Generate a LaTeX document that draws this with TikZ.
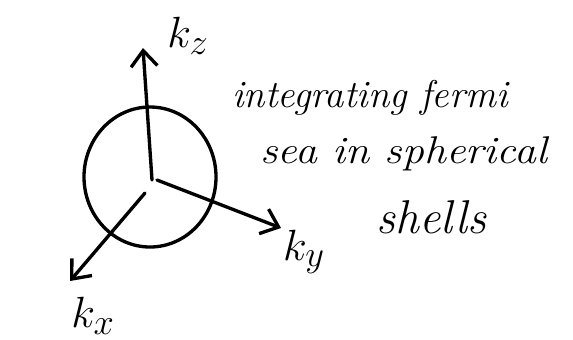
\documentclass[tikz,border=0pt]{standalone}
\usepackage{amsmath}
\usetikzlibrary{arrows.meta}

\tikzset{
  pen/.style={line width=1.9pt, line cap=round, line join=round},
  axis/.style={pen, -{Straight Barb[length=9pt, width=15pt, line width=1.9pt]}},
  hand/.style={font=\fontsize{22}{26}\selectfont\itshape, inner sep=0pt},
  axlabel/.style={font=\fontsize{28}{32}\selectfont, inner sep=0pt},
}

\begin{document}
\begin{tikzpicture}[x=0.02cm, y=-0.02cm]
  \useasboundingbox (0,0) rectangle (573,339);

  % origin and axis ends
  \coordinate (o) at (152,180);
  \coordinate (zend) at (143,48);
  \coordinate (yend) at (281,228);
  \coordinate (xend) at (70,281);

  % fermi sphere
  \draw[pen] (150,177) ellipse (66 and 70);

  \draw[axis] (o) -- (zend);
  \draw[axis] (157,180) -- (yend);
  \draw[axis] (145,193) -- (xend);

  \node[axlabel] (kz) at (188,36) {$k_z$};
  \node[axlabel] (ky) at (304,252) {$k_y$};
  \node[axlabel] (kx) at (93,316) {$k_x$};

  \node[hand, anchor=base west] (txta) at (232,107) {integrating fermi};
  \node[hand, anchor=base west, xscale=1.13, transform shape] (txtb) at (260,163) {sea in spherical};
  \node[hand, anchor=base west, font=\fontsize{27}{30}\selectfont\itshape] (txtc) at (376,233) {shells};
\end{tikzpicture}
\end{document}
